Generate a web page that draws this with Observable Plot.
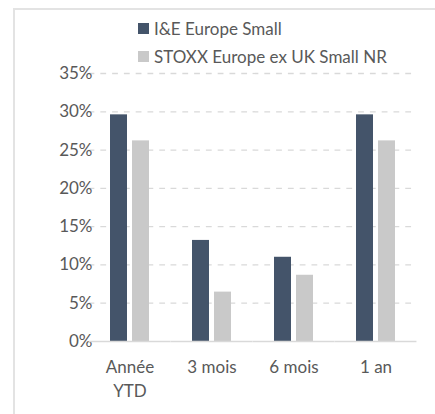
<!DOCTYPE html>
<html>
<head>
<meta charset="utf-8">
<script src="https://cdn.jsdelivr.net/npm/d3@7"></script>
<script src="https://cdn.jsdelivr.net/npm/@observablehq/plot@0.6"></script>
<style>
  html, body { margin: 0; padding: 0; width: 435px; height: 414px; overflow: hidden; background: #fff; }
  #frame { position: absolute; left: 13px; top: 8px; width: 600px; height: 600px; border: 2px solid #e3e3e3; box-sizing: border-box; }
  #wrap { position: absolute; left: 0; top: 0; width: 435px; font-family: Lato, sans-serif; color: #595959; }
  #legend { position: relative; height: 62px; font-size: 17px; }
  .item { position: absolute; left: 138px; display: flex; align-items: center; height: 20px; white-space: nowrap; }
  .sw { width: 11px; height: 11px; margin-right: 5px; }
  svg { display: block; }
</style>
</head>
<body>
<div id="frame"></div>
<div id="wrap">
  <div id="legend"></div>
  <div id="chart"></div>
</div>
<script>
const categories = ["Année\nYTD", "3 mois", "6 mois", "1 an"];
const seriesNames = ["I&E Europe Small", "STOXX Europe ex UK Small NR"];
const seriesColors = ["#44546a", "#c9c9c9"];
const fundValues = [29.6, 13.2, 11.0, 29.6];
const indexValues = [26.2, 6.45, 8.65, 26.2];
const yTicks = [0, 5, 10, 15, 20, 25, 30, 35];

const data = [];
categories.forEach((c, i) => {
  data.push({cat: c, series: seriesNames[0], value: fundValues[i]});
  data.push({cat: c, series: seriesNames[1], value: indexValues[i]});
});

// legend
const legend = document.getElementById("legend");
seriesNames.forEach((name, i) => {
  const it = document.createElement("div");
  it.className = "item";
  it.style.top = (18 + i * 28) + "px";
  const sw = document.createElement("span");
  sw.className = "sw";
  sw.style.background = seriesColors[i];
  it.appendChild(sw);
  const t = document.createElement("span");
  t.textContent = name;
  it.appendChild(t);
  legend.appendChild(it);
});

const W = 435, mL = 88, mR = 17;
const step = (W - mL - mR) / categories.length;
const padIn = 0.496;
const ext = step * padIn / 2; // extend per-facet rules across the gaps between groups

const chart = Plot.plot({
  width: W,
  height: 352,
  marginLeft: mL,
  marginRight: mR,
  marginTop: 11,
  marginBottom: 73,
  style: {fontFamily: "Lato, sans-serif", fontSize: "17px", color: "#595959", background: "transparent"},
  fx: {domain: categories, paddingInner: padIn, paddingOuter: padIn / 2, label: null},
  x: {domain: seriesNames, paddingInner: 0.21, paddingOuter: 0, axis: null},
  y: {domain: [0, 35], label: null},
  color: {domain: seriesNames, range: seriesColors},
  marks: [
    Plot.ruleY(yTicks.filter(d => d > 0), {insetLeft: -ext, insetRight: -ext, stroke: "#d9d9d9", strokeWidth: 1.3, strokeDasharray: `5.8,${(step / 7 - 5.8).toFixed(3)}`}),
    Plot.axisY(yTicks, {tickSize: 0, tickPadding: 17, tickFormat: d => d + "%", fontSize: 17, label: null}),
    Plot.barY(data, {fx: "cat", x: "series", y: "value", fill: "series"}),
    Plot.ruleY([0], {insetLeft: -ext, insetRight: -ext, stroke: "#d9d9d9", strokeWidth: 1.3}),
    Plot.axisFx({anchor: "bottom", tickSize: 0, tickPadding: 15, fontSize: 17, lineHeight: 1.4, label: null})
  ]
});
document.getElementById("chart").appendChild(chart);
</script>
</body>
</html>
